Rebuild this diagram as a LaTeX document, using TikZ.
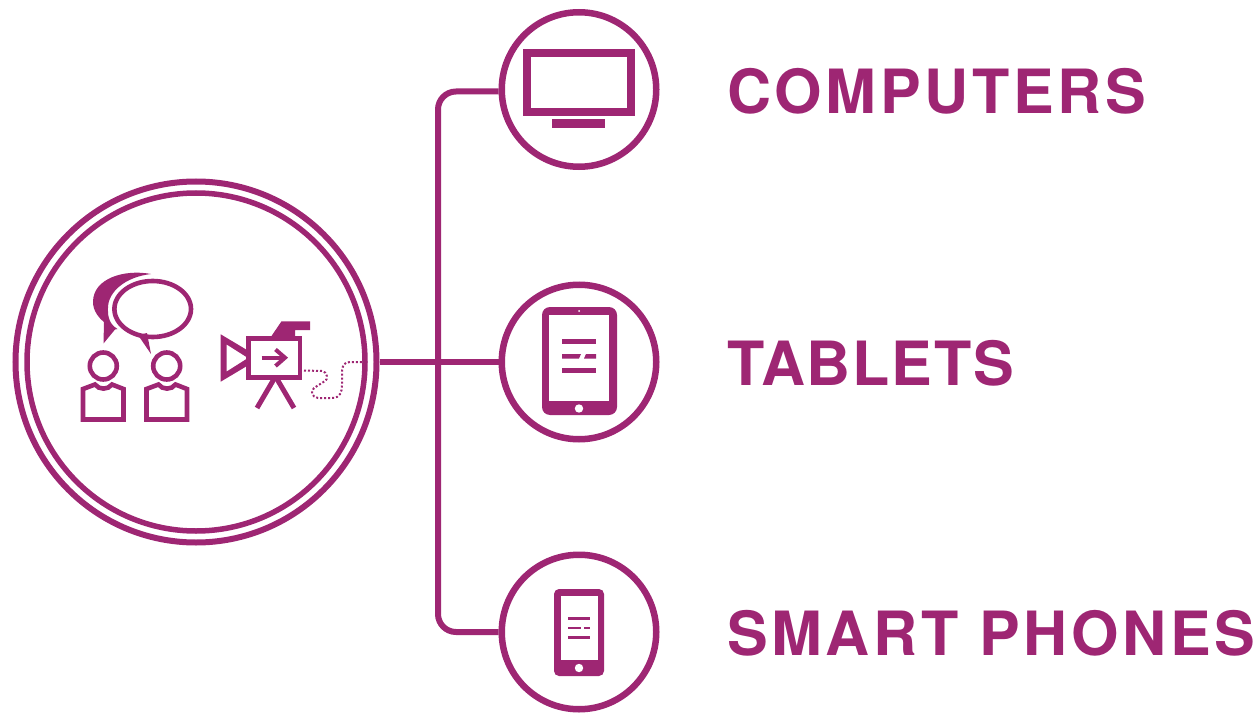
\documentclass[tikz,border=0pt]{standalone}
\usepackage{fontspec}
\setmainfont{TeX Gyre Heros}[LetterSpace=6]
\definecolor{plum}{HTML}{9E2673}
\tikzset{
  x=1pt,y=-1pt,
  ring/.style={draw=plum,circle,line width=#1,inner sep=0pt,fill=none},
  wire/.style={draw=plum,line width=6pt},
  lab/.style={text=plum,anchor=base west,inner sep=0pt,font=\fontsize{61}{61}\selectfont\bfseries},
  ink/.style={draw=plum,line width=4.6pt,miter limit=8},
}
\begin{document}
\begin{tikzpicture}
\useasboundingbox (0,0) rectangle (1255,714);
% rings
\node[ring=6pt,minimum size=361pt] (hub) at (196,362) {};
\node[ring=5.5pt,minimum size=338pt] (hubin) at (196,362) {};
\node[ring=6.5pt,minimum size=154.5pt] (tv) at (579,89.5) {};
\node[ring=6.5pt,minimum size=154.5pt] (tablet) at (579,362) {};
\node[ring=6.5pt,minimum size=154.5pt] (phone) at (579,632) {};
% connectors
\coordinate (jn) at (438,362);
\draw[wire] (hub.east) -- (tablet.west);
\draw[wire,rounded corners=18pt] ([yshift=-2pt]tv.west) -| (jn) |- (phone.west);
% labels
\node[lab] (l1) at (727,113.5) {COMPUTERS};
\node[lab] (l2) at (727,385.5) {\addfontfeature{LetterSpace=3}TABLETS};
\node[lab] (l3) at (727,655.5) {SMART PHONES};
% TV
\draw[plum,line width=8pt,miter limit=8] (527,53) rectangle (631,112);
\fill[plum] (552,119) rectangle (605,128);
% tablet
\fill[plum,rounded corners=8pt] (542,307) rectangle (617,415);
\fill[white] (549,315) rectangle (609,401);
\fill[white] (579,408.5) circle (4.2);
\fill[white] (579,311) circle (1);
\fill[plum] (562,339) rectangle (596,344);
\fill[plum] (562,354) -- (581,354) -- (579,358.5) -- (562,358.5) -- cycle;
\fill[plum] (586,354) -- (596,354) -- (596,358.5) -- (584,358.5) -- cycle;
\fill[plum] (562,368) rectangle (596,373);
% phone
\fill[plum,rounded corners=5pt] (554,589) rectangle (604,676);
\fill[white] (561,595.5) rectangle (598,660);
\fill[white] (579,668) circle (4.2);
\fill[plum] (568,616.5) rectangle (590,619.5);
\fill[plum] (568,626.5) rectangle (581,629);
\fill[plum] (584,626.5) rectangle (590,629);
\fill[plum] (568,635.5) rectangle (590,638.5);
% speech bubbles
\draw[ink] (152.7,309) ellipse [x radius=38.3,y radius=28];
\fill[plum] (138,335) -- (151,354) -- (147,333) -- cycle;
\fill[plum] (151,274) .. controls (125,269) and (93,278) .. (93,302)
  .. controls (93,311) and (99,318) .. (104,322) -- (103.5,343.5) -- (115,329.5) -- (117.5,329)
  .. controls (107,323) and (108,312) .. (108,308) .. controls (108,292) and (125,277) .. cycle;
% people
\draw[ink] (103.3,366) circle (13.5);
\draw[ink] (166.7,366) circle (13.5);
\draw[ink] (83,419.5) -- (83,389) -- (95,384.5) .. controls (99,390) and (108,390) .. (112,384.5) -- (123.5,389) -- (123.5,419.5) -- cycle;
\draw[ink] (146.5,419.5) -- (146.5,389) -- (158.5,384.5) .. controls (162.5,390) and (171.5,390) .. (175.5,384.5) -- (187,389) -- (187,419.5) -- cycle;
% camera
\fill[plum,even odd rule] (220.7,334.3) -- (252,353) -- (252,363) -- (220.7,381.7) -- cycle
  (226.7,344.5) -- (248,358) -- (226.7,371.5) -- cycle;
\draw[ink,fill=white] (248.3,338.3) rectangle (300,377.7);
\fill[plum] (271.5,336) -- (281.5,321.3) -- (310,321.3) -- (310,330) -- (295,330) -- (295,336) -- cycle;
\draw[plum,line width=4pt] (261.5,357.7) -- (282,357.7);
\draw[plum,line width=4pt] (275.5,349.5) -- (285,357.7) -- (275.5,366);
\draw[plum,line width=5pt] (274,379) -- (257,408);
\draw[plum,line width=5pt] (277,379) -- (294,408);
\draw[plum,line width=2pt,dash pattern=on 2pt off 2pt] (304,370.5) -- (322,371) .. controls (328,372) and (328,380) .. (325,381)
  -- (314,388) .. controls (310,392) and (312,397) .. (318,398)
  -- (332,398) .. controls (340,398) and (342,392) .. (342,385)
  -- (342,372) .. controls (342,366) and (344,362) .. (350,362) -- (362,362);
\end{tikzpicture}
\end{document}
